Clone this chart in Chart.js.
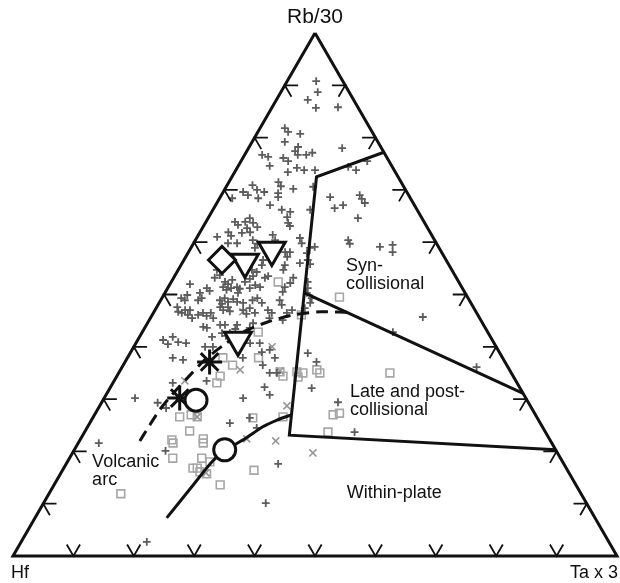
<!DOCTYPE html>
<html>
<head>
<meta charset="utf-8">
<script src="https://cdn.jsdelivr.net/npm/chart.js@4.4.1/dist/chart.umd.min.js"></script>
<style>
  html, body { margin: 0; padding: 0; background: #fff; }
  canvas { display: block; }
</style>
</head>
<body>
<canvas id="ternary" width="620" height="583"></canvas>
<script>
// every point is [Rb/30 %, Ta x 3 %]; Hf is what is left of 100
const plusPoints = [
  [90.8,4.8],[88.7,6.1],[87.2,5.2],[85.7,7.3],[85.8,10.9],
  [81.8,4.1],[81.1,5.0],[80.7,7.2],[79.2,5.4],[78.2,8.1],[77.4,8.0],[76.7,8.8],
  [76.7,2.9],[76.3,4.1],[74.6,5.2],[76.1,6.7],[75.5,7.8],[76.7,10.2],[77.1,11.0],
  [73.4,8.8],[74.2,9.9],[73.8,11.3],[73.8,13.1],
  [78.0,15.5],[74.4,18.3],[73.8,19.9],[75.5,20.9],
  [70.9,4.2],[69.6,3.3],[69.0,4.4],[70.0,5.4],[69.6,6.8],[68.4,6.4],[68.4,2.1],
  [71.5,8.2],[70.7,9.0],[70.2,11.3],[69.4,9.2],[68.6,9.6],[70.6,14.4],
  [68.6,18.2],[69.0,22.9],[68.3,23.6],[67.5,24.5],[66.5,20.0],[67.1,21.1],
  [67.1,9.0],[66.2,11.4],[66.2,16.1],[65.8,13.0],[64.8,13.0],[63.7,13.7],[63.1,14.3],
  [63.9,4.8],[63.3,5.6],[63.9,6.5],[64.6,6.9],[63.7,7.9],[62.7,7.4],[61.9,8.3],[62.9,9.0],
  [61.8,7.0],[61.9,4.7],[61.2,5.5],[61.0,3.3],
  [59.8,5.7],[59.8,7.2],[60.4,9.5],[59.7,10.6],[58.9,10.6],[61.4,12.3],[60.4,13.2],
  [60.8,17.1],[59.8,17.9],[58.9,19.7],[59.1,20.4],[57.9,19.7],[56.6,20.5],[55.8,21.3],
  [58.1,16.0],[58.1,16.8],[57.2,16.8],[56.6,13.1],[55.6,13.4],[55.6,17.2],[54.7,17.4],[56.0,19.5],
  [64.6,24.8],[60.4,25.3],[59.7,25.9],[59.1,31.2],[59.5,33.1],[58.1,33.8],
  [54.7,6.4],[53.7,7.4],[53.2,6.8],[52.4,8.9],[52.0,9.6],[52.8,9.9],[51.4,9.1],[50.9,9.9],
  [51.2,10.5],[51.4,11.4],[51.1,12.0],[50.3,12.1],
  [52.0,3.3],[51.2,6.5],[50.7,7.2],[50.3,5.8],[49.3,6.6],[48.9,6.2],[49.9,3.9],[48.9,4.0],[49.3,3.2],
  [46.7,4.0],[47.0,5.0],[47.0,5.8],[46.1,5.9],[45.5,6.9],[46.1,7.6],[46.5,8.2],[45.9,9.1],
  [46.5,9.5],[45.5,10.4],
  [48.9,9.8],[49.3,10.4],[48.6,11.3],[49.1,11.9],[48.6,12.8],[47.6,10.5],[47.0,11.3],[47.6,11.8],[46.8,12.5],
  [47.0,14.6],[46.3,15.5],[47.4,15.5],[48.9,15.2],[49.3,15.8],[48.4,17.0],
  [54.3,13.2],[53.5,13.0],[53.0,12.7],[53.2,15.1],[53.5,15.5],[52.4,12.2],[51.8,14.2],[51.4,15.2],[51.2,13.6],
  [51.4,19.3],[50.5,19.4],[53.2,19.8],[52.2,19.8],[52.4,22.6],[51.2,23.2],[50.3,23.5],
  [48.9,19.7],[48.0,20.5],[46.5,16.8],[45.5,19.7],[45.1,22.1],[47.0,22.7],[47.4,24.6],[49.3,24.8],[48.4,25.0],
  [43.6,10.3],[43.8,9.6],[44.2,12.2],[44.2,13.0],[44.2,15.0],[43.4,15.1],[42.6,13.3],[42.1,14.2],
  [42.6,14.6],[41.9,12.0],
  [41.3,4.2],[41.9,5.5],[40.9,6.9],[40.5,5.4],[40.7,8.3],
  [44.5,17.5],[43.6,17.4],[40.7,20.5],[40.7,18.9],[40.0,11.8],[40.0,13.1],
  [37.9,7.5],[37.5,9.4],[37.9,19.1],[37.9,24.4],[39.0,21.7],[39.4,22.8],[36.5,23.1],[35.0,25.0],[35.0,26.2],
  [38.8,29.4],[37.1,31.7],[32.3,25.5],[30.8,27.1],[30.2,23.0],[32.1,33.4],[29.4,39.1],
  [26.4,26.0],[24.5,28.1],[25.4,23.2],[23.7,44.7],[17.6,35.1],[10.1,36.8],[2.7,20.8],
  [21.6,3.4],[20.1,15.2],[30.2,5.1],[29.3,9.3],[28.3,11.2],[33.1,9.9],[33.5,15.3],
  [45.7,45.0],[42.8,41.5],[36.1,58.7],
  [54.7,12.2],[47.0,18.7],[46.5,19.6],[46.5,22.1],[48.4,13.9],[48.2,10.5],[47.6,3.4],[46.5,4.7]
];

const squarePoints = [
  [52.4,17.7],[49.5,29.3],[46.1,24.7],[42.8,19.2],[37.9,21.7],[36.5,18.1],[37.9,15.8],[34.4,17.1],[33.1,17.2],
  [35.2,26.6],[34.4,27.5],[35.2,29.4],[35.0,30.5],[34.2,30.1],[35.6,32.5],[35.0,33.3],[35.0,44.9],
  [27.0,39.5],[27.3,40.4],[23.7,40.3],[26.4,26.5],[26.6,31.4],
  [26.6,14.3],[27.0,16.0],[26.6,17.2],[23.9,17.3],[22.2,15.2],[21.6,15.7],[22.4,20.3],[21.6,20.7],
  [18.7,17.1],[18.7,21.9],[18.0,23.6],[16.8,21.4],[16.8,22.1],[16.1,22.9],[15.7,24.2],[13.6,27.5],
  [11.9,11.9],[16.4,31.7]
];

const crossPoints = [
  [40.0,22.9],[35.6,19.8],[35.4,26.5],[33.5,11.7],[28.7,31.0],[26.6,17.2],
  [22.4,27.5],[22.0,32.5],[19.7,39.8],[15.9,24.0],[46.7,14.7]
];

const diamondPoints = [[56.6,6.3]];
const trianglePoints = [[56.2,10.3],[58.5,13.6],[41.3,16.6]];
const starPoints = [[37.1,14.0],[30.2,12.5]];
const circlePoints = [[29.8,15.4],[20.3,24.9]];

// field boundaries
const synUpperLine = [[77.2,22.8],[72.5,14.0],[23.1,34.2],[20.3,79.7]];
const synLowerLine = [[50.3,23.1],[31.1,68.9]];
const arcLine = [[46.6,32.0],[46.7,27.5],[46.1,23.3],[44.7,19.7],[43.0,16.9],[40.5,14.8],
  [37.5,13.0],[34.2,11.9],[30.8,10.9],[27.9,10.3],[24.5,10.1],[22.0,10.0]];
const plateLine = [[7.3,21.8],[12.8,22.9],[18.2,24.0],[20.5,25.3],[22.4,27.2],[24.7,29.0],[26.0,30.7],[27.0,32.6]];

const tickValues = [10, 20, 30, 40, 50, 60, 70, 80, 90];
const cornerLabels = ["Rb/30", "Hf", "Ta x 3"];
const fieldLabels = [
  { lines: ["Syn-", "collisional"], at: [54.5, 27.9] },
  { lines: ["Late and post-", "collisional"], at: [30.4, 40.6] },
  { lines: ["Within-plate"], at: [11.1, 49.7] },
  { lines: ["Volcanic", "arc"], at: [17.0, 4.6] }
];

const H = Math.sqrt(3) / 2;
function toXY(p) {
  if (p === null) return { x: null, y: null };
  return { x: p[1] + p[0] / 2, y: p[0] * H };
}

// each tick is two short arms pointing into the triangle
const tickLen = 2.2;
const tickSegments = [];
tickValues.forEach(t => {
  tickSegments.push([tickLen, t - tickLen], [0, t], [tickLen, t], null);
  tickSegments.push([t, tickLen], [t, 0], [t - tickLen, tickLen], null);
  tickSegments.push([t, 100 - t - tickLen], [t, 100 - t], [t - tickLen, 100 - t], null);
});

const outline = [[100, 0], [0, 0], [0, 100], [100, 0]];

function lineSet(points, width, extra) {
  return Object.assign({
    data: points.map(toXY),
    showLine: true,
    spanGaps: false,
    pointRadius: 0,
    borderColor: "#111",
    borderWidth: width,
    borderJoinStyle: "miter",
    fill: false,
    tension: 0,
    clip: false
  }, extra || {});
}

function markerSet(points, style, radius, color, width, fillColor, order, rotation) {
  return {
    data: points.map(toXY),
    pointStyle: style,
    pointRadius: radius,
    pointBorderColor: color,
    borderColor: color,
    pointBorderWidth: width,
    pointBackgroundColor: fillColor,
    pointRotation: rotation || 0,
    order: order,
    clip: false
  };
}

const textPlugin = {
  id: "ternaryText",
  afterDatasetsDraw(chart) {
    const { ctx, scales } = chart;
    const px = p => {
      const c = toXY(p);
      return [scales.x.getPixelForValue(c.x), scales.y.getPixelForValue(c.y)];
    };
    ctx.save();
    ctx.fillStyle = "#111";
    ctx.textBaseline = "alphabetic";
    ctx.font = '18px "Liberation Sans", Arial, sans-serif';
    fieldLabels.forEach(l => {
      const [x, y] = px(l.at);
      l.lines.forEach((t, i) => ctx.fillText(t, x, y + i * 18));
    });

    const apex = px([100, 0]);
    const hf = px([0, 0]);
    const ta = px([0, 100]);
    ctx.textAlign = "left";
    ctx.fillText(cornerLabels[1], hf[0] - 2, hf[1] + 22);
    ctx.textAlign = "right";
    ctx.fillText(cornerLabels[2], ta[0] + 1, ta[1] + 22);
    ctx.textAlign = "center";
    ctx.font = '21px "Liberation Sans", Arial, sans-serif';
    ctx.fillText(cornerLabels[0], apex[0], apex[1] - 10);
    ctx.restore();
  }
};

new Chart(document.getElementById("ternary"), {
  type: "scatter",
  data: {
    datasets: [
      markerSet(diamondPoints, "rectRot", 13.5, "#111", 3, "#fff", 0),
      markerSet(trianglePoints, "triangle", 15.5, "#111", 3, "#fff", 0, 180),
      markerSet(circlePoints, "circle", 11, "#111", 3, "#fff", 0),
      markerSet(starPoints, "star", 12.5, "#111", 3, "#fff", 0),
      lineSet(synUpperLine, 3, { order: 1 }),
      lineSet(synLowerLine, 3, { order: 1 }),
      lineSet(arcLine, 3, { order: 1, borderDash: [12, 7], tension: 0.25 }),
      lineSet(plateLine, 3, { order: 1, tension: 0.25 }),
      lineSet(outline, 3, { order: 2 }),
      lineSet(tickSegments, 1.8, { order: 2 }),
      markerSet(plusPoints, "cross", 3.9, "#5c5c5c", 1.8, "transparent", 3),
      markerSet(crossPoints, "crossRot", 5, "#969696", 1.6, "transparent", 4),
      markerSet(squarePoints, "rect", 5.5, "#a6a6a6", 1.6, "transparent", 5)
    ]
  },
  options: {
    responsive: false,
    devicePixelRatio: 1,
    animation: false,
    events: [],
    layout: { autoPadding: false, padding: { left: 13, right: 3, top: 33, bottom: 27 } },
    scales: {
      x: { type: "linear", min: 0, max: 100, display: false },
      y: { type: "linear", min: 0, max: 100 * H, display: false }
    },
    plugins: {
      legend: { display: false },
      tooltip: { enabled: false }
    }
  },
  plugins: [textPlugin]
});
</script>
</body>
</html>
